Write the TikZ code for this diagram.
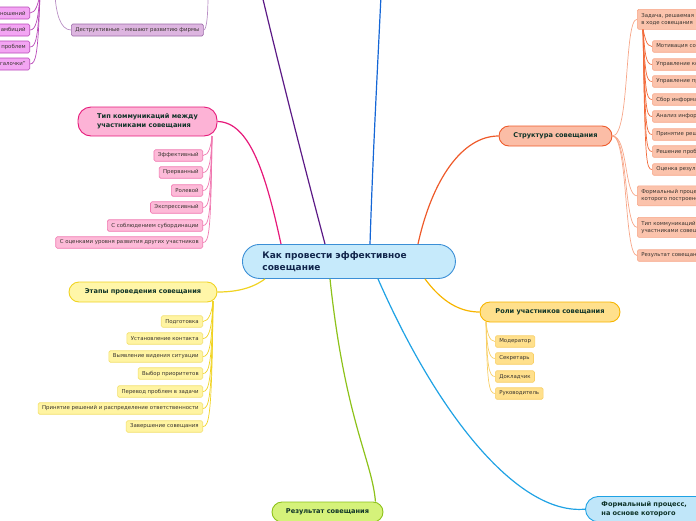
\documentclass[tikz,border=0pt]{standalone}
\usepackage{fontspec}
\setmainfont{DejaVu Sans}
\usetikzlibrary{calc}
\definecolor{ctxt}{HTML}{12264C}
\definecolor{ttxt}{HTML}{0E3328}
\definecolor{stxt}{HTML}{3A3530}
\definecolor{cfill}{HTML}{C6EAFB}\definecolor{cdraw}{HTML}{3B8FD6}
\definecolor{ofill}{HTML}{FBBDA6}\definecolor{odraw}{HTML}{EE5A2A}\definecolor{osub}{HTML}{F7A688}\definecolor{osubfill}{HTML}{FBC3AC}\definecolor{oline}{HTML}{F26A3A}
\definecolor{pfill}{HTML}{FDB3D6}\definecolor{pdraw}{HTML}{E6197A}\definecolor{psub}{HTML}{F078B0}\definecolor{psubfill}{HTML}{FDBAD8}
\definecolor{yfill}{HTML}{FFF6A8}\definecolor{ydraw}{HTML}{F0D322}\definecolor{ysub}{HTML}{F3E06E}\definecolor{ysubfill}{HTML}{FFF4A2}
\definecolor{gfill}{HTML}{FFE08C}\definecolor{gdraw}{HTML}{F7B500}\definecolor{gsub}{HTML}{F8CF66}
\definecolor{lfill}{HTML}{D5F27A}\definecolor{ldraw}{HTML}{8DC21A}
\definecolor{bfill}{HTML}{C0E6F9}\definecolor{bdraw}{HTML}{1FA2E4}
\definecolor{vline}{HTML}{5C1A86}\definecolor{bline}{HTML}{1466D6}
\definecolor{mfill}{HTML}{F3A5F3}\definecolor{mdraw}{HTML}{B848B8}
\definecolor{dfill}{HTML}{DDB5E0}\definecolor{ddraw}{HTML}{9B6AA8}\definecolor{dline}{HTML}{B98FC4}
\begin{document}
\begin{tikzpicture}[x=1pt,y=-1pt,
  small/.style={rectangle, rounded corners=1.5pt, draw, line width=0.6pt, font=\fontsize{5.4}{6.6}\selectfont, text=stxt, inner xsep=4pt, inner ysep=0pt, minimum height=11.5pt},
  small2/.style={small, align=left, minimum height=20pt},
  topic/.style={rectangle, rounded corners=10pt, draw, line width=0.9pt, font=\bfseries\fontsize{6.6}{9}\selectfont, text=ttxt, inner sep=0pt},
  mainline/.style={line width=1.2pt},
  subline/.style={line width=0.7pt}]
\useasboundingbox (0,0) rectangle (696,520);
\clip (0,0) rectangle (696,520);

% central node
\node[draw=cdraw, fill=cfill, line width=0.9pt, rounded corners=17pt, anchor=north west,
  minimum width=213pt, minimum height=34pt, inner xsep=20pt, inner ysep=0pt, text width=173pt, align=left,
  font=\bfseries\fontsize{9}{12}\selectfont, text=ctxt] (c) at (242,244) {Как провести эффективное\\совещание};

% main topics
\node[topic, fill=ofill, draw=odraw, minimum width=113pt, minimum height=20pt] (s) at (555.5,136) {Структура совещания};
\node[topic, fill=pfill, draw=pdraw, minimum width=139pt, minimum height=29pt, align=left, rounded corners=13pt] (t) at (147.5,121.5) {Тип коммуникаций между\\участниками совещания};
\node[topic, fill=yfill, draw=ydraw, minimum width=148pt, minimum height=20pt] (e) at (143,292) {Этапы проведения совещания};
\node[topic, fill=gfill, draw=gdraw, minimum width=140pt, minimum height=20pt] (r) at (550,312) {Роли участников совещания};
\node[topic, fill=lfill, draw=ldraw, minimum width=111pt, minimum height=20pt] (res) at (327.5,512) {Результат совещания};
\node[topic, fill=bfill, draw=bdraw, anchor=north west, inner xsep=16pt, inner ysep=5pt, text width=110pt, align=left, rounded corners=13pt] (f) at (585,496) {Формальный процесс,\\на основе которого};

% off-picture coordinates
\coordinate (vtop) at (262,-5);
\coordinate (btop) at (381,-5);

% main connectors
\draw[mainline, vline] ($(c.north west)+(83,0)$) .. controls (300,150) and (275,50) .. (vtop);
\draw[mainline, bline] ($(c.north west)+(128,0)$) .. controls (373,150) and (378,60) .. (btop);
\draw[mainline, odraw] ($(c.north west)+(176,0)$) .. controls (432,180) and (462,136) .. (s.west);
\draw[mainline, pdraw] ($(c.north west)+(39,0)$) .. controls (266,175) and (250,122) .. (t.east);
\draw[mainline, ydraw] ($(c.south west)+(23,0)$) .. controls (250,290) and (232,292) .. (e.east);
\draw[mainline, gdraw] ($(c.south west)+(183,0)$) .. controls (442,302) and (460,312) .. (r.west);
\draw[mainline, ldraw] ($(c.south west)+(88,0)$) .. controls (345,420) and (372,460) .. ($(res.north east)+(-8,0)$);
\draw[mainline, bdraw] ($(c.south west)+(136,0)$) .. controls (440,420) and (520,515) .. (f.west);

% Структура children
\node[small2, fill=osubfill, draw=osub, anchor=north west] (z) at (637,9) {Задача, решаемая\\в ходе совещания};
\node[small2, fill=osubfill, draw=osub, anchor=north west] (s2) at (637,185.5) {Формальный процесс, на основе\\которого построено совещание};
\node[small2, fill=osubfill, draw=osub, anchor=north west] (s3) at (637,217) {Тип коммуникаций между\\участниками совещания};
\node[small, fill=osubfill, draw=osub, anchor=west] (s4) at (637,255.5) {Результат совещания};
\draw[subline, osub] (s.east) .. controls (630,136) and (624,19) .. (z.west);
\foreach \n in {s2,s3,s4}{
  \draw[subline, osub] (s.east) .. controls (628,136) and (624,0 |- \n.west) .. (\n.west);
}

\foreach \nm/\y/\tx in {z1/46.5/Мотивация сотрудников, z2/64.5/Управление конфликтами, z3/81.5/Управление процессом, z4/99.5/Сбор информации, z5/116.5/Анализ информации, z6/134.5/Принятие решений, z7/151.5/Решение проблем, z8/169.5/Оценка результатов}{
  \node[small, fill=osubfill, draw=osub, anchor=west] (\nm) at (652,\y) {\tx};
  \draw[subline, oline] ($(z.south west)+(6,0)$) .. controls (645,\y-10) and (646,\y) .. (\nm.west);
}

% Тип children
\coordinate (tp) at (212,136);
\foreach \nm/\y/\tx in {t1/155.5/Эффективный, t2/172.5/Прерванный, t3/190.5/Ролевой, t4/207.5/Экспрессивный, t5/225.5/С соблюдением субординации, t6/242.5/С оценками уровня развития других участников}{
  \node[small, fill=psubfill, draw=psub, anchor=east] (\nm) at (203,\y) {\tx};
  \draw[subline, psub] (tp) .. controls (211,\y-10) and (209,\y) .. (\nm.east);
}

% Этапы children
\coordinate (ep) at (213,301);
\foreach \nm/\y/\tx in {e1/321.5/Подготовка, e2/338.5/Установление контакта, e3/356.5/Выявление видения ситуации, e4/373.5/Выбор приоритетов, e5/391.5/Перевод проблем в задачи, e6/408.5/Принятие решений и распределение ответственности, e7/426.5/Завершение совещания}{
  \node[small, fill=ysubfill, draw=ysub, anchor=east] (\nm) at (203,\y) {\tx};
  \draw[subline, ydraw] (ep) .. controls (212,\y-10) and (209,\y) .. (\nm.east);
}

% Роли children
\coordinate (rp) at (486,322);
\foreach \nm/\y/\tx in {r1/341.5/Модератор, r2/358.5/Секретарь, r3/376.5/Докладчик, r4/393.5/Руководитель}{
  \node[small, fill=gfill, draw=gsub, anchor=west] (\nm) at (495,\y) {\tx};
  \draw[subline, gsub] (rp) .. controls (487,\y-10) and (489,\y) .. (\nm.west);
}

% top-left purple branch
\coordinate (mtop) at (40,-5);
\foreach \nm/\y/\tx in {m1/13/Выяснение отношений, m2/30/Удовлетворение амбиций, m3/47/Решение личных проблем, m4/64/Для "галочки"}{
  \node[small, fill=mfill, draw=mdraw, anchor=east, minimum height=12pt] (\nm) at (30,\y) {\tx};
  \draw[subline, mdraw] (mtop) .. controls (38,\y-10) and (36,\y) .. (\nm.east);
}
\node[small, fill=dfill, draw=ddraw, anchor=west, minimum height=12pt] (d) at (71,30) {Деструктивные - мешают развитию фирмы};
\coordinate (dl) at (55,-5);
\coordinate (dr) at (208,-5);
\draw[subline, dline] (d.west) .. controls (60,30) and (56,12) .. (dl);
\draw[subline, dline] (d.east) .. controls (207,30) and (208,12) .. (dr);
\end{tikzpicture}
\end{document}
